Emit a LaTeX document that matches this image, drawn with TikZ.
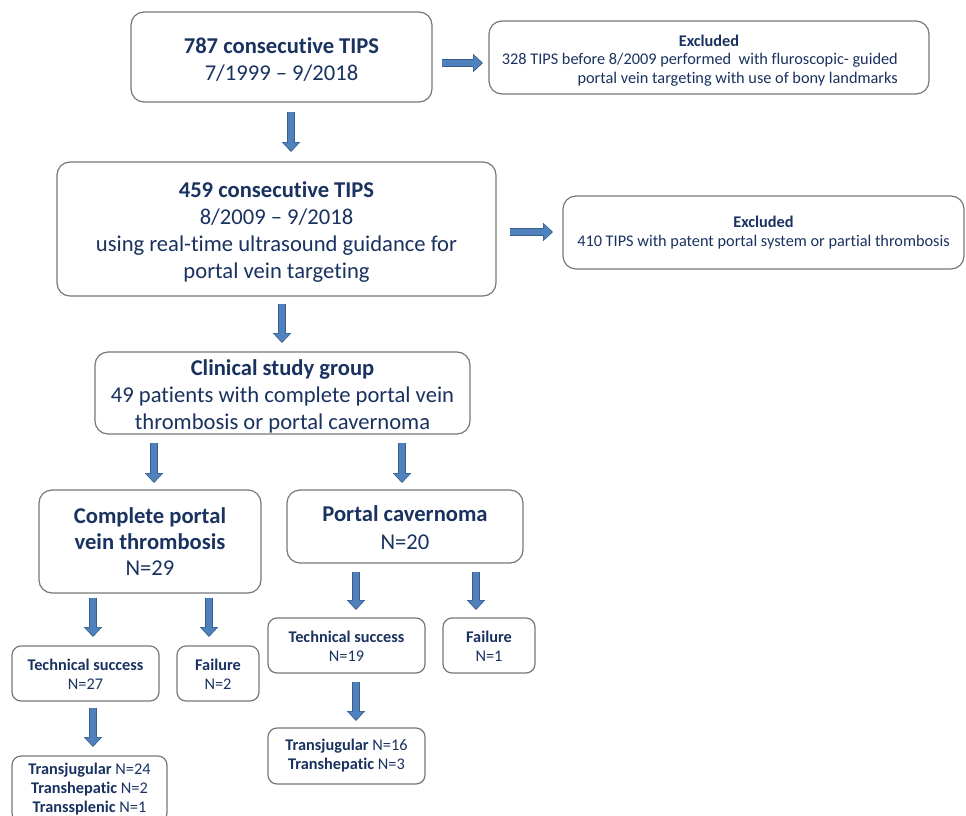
\documentclass[tikz,border=0pt]{standalone}
\usepackage{fontspec}
\setmainfont{Carlito}[Ligatures={TeX,NoCommon}]
\usetikzlibrary{arrows.meta}
\definecolor{txt}{RGB}{25,50,95}
\definecolor{bord}{RGB}{120,120,120}
\definecolor{afill}{RGB}{79,129,189}
\definecolor{aline}{RGB}{56,93,138}
\newcommand\toppad[1]{\rule{0pt}{#1}}
\begin{document}
\begin{tikzpicture}[x=1pt,y=-1pt,
  box/.style={draw=bord, line width=1.2pt, rounded corners=13pt, align=center, text=txt, inner sep=0pt},
  sbox/.style={box, rounded corners=9pt},
  big/.style={font=\fontsize{22.6}{27}\selectfont},
  small/.style={font=\fontsize{16.3}{19}\selectfont},
  lbl/.style={text=txt, inner sep=0pt},
  barr/.style={line width=6.2pt, draw=afill, shorten >=1.3pt,
    -{Triangle[width=15pt,length=8pt]},
    preaction={draw=aline, line width=8pt, shorten >=0pt, -{Triangle[width=18pt,length=10pt]}}},
]
\fill[white] (0,0) rectangle (966,816);
\clip (0,0) rectangle (966,816);

% boxes
\node[box, big, minimum width=301pt, minimum height=90pt] (A) at (281.5,57)
  {\toppad{21.5pt}\textbf{787 consecutive TIPS}\\7/1999 – 9/2018};
\node[box, minimum width=440pt, minimum height=73pt] (X1) at (709,57.5) {};
\node[lbl, small] (X1t) at (709,41) {\textbf{Excluded}};
\node[lbl, small, align=right, anchor=east] (X1b) at (898,69.5)
  {328 TIPS before 8/2009 performed\ \ with fluroscopic- guided\\portal vein targeting with use of bony landmarks};

\node[box, big, minimum width=439pt, minimum height=134pt] (B) at (276.5,229)
  {\toppad{22pt}\textbf{459 consecutive TIPS}\\8/2009 – 9/2018\\using real-time ultrasound guidance for\\portal vein targeting};
\node[box, small, minimum width=401pt, minimum height=73pt] (X2) at (763.5,232.5)
  {\textbf{Excluded}\\410 TIPS with patent portal system or partial thrombosis};

\node[box, big, minimum width=375pt, minimum height=82pt] (C) at (282.5,393)
  {\toppad{22pt}\textbf{Clinical study group}\\49 patients with complete portal vein\\thrombosis or portal cavernoma};

\node[box, font=\fontsize{22.6}{26}\selectfont, minimum width=222pt, minimum height=103pt] (D) at (150,541.5)
  {\textbf{Complete portal}\\\textbf{vein thrombosis}\\N=29};
\node[box, font=\fontsize{22.6}{28}\selectfont, minimum width=236pt, minimum height=73pt] (E) at (405,526.5)
  {\toppad{18pt}\textbf{Portal cavernoma}\\N=20};

\node[sbox, small, minimum width=147pt, minimum height=55pt] (F) at (85.5,673.5)
  {\toppad{13.5pt}\textbf{Technical success}\\N=27};
\node[sbox, small, minimum width=82pt, minimum height=55pt] (G) at (218,673.5)
  {\toppad{13.5pt}\textbf{Failure}\\N=2};
\node[sbox, small, minimum width=157pt, minimum height=55pt] (H) at (346.5,645.5)
  {\toppad{13.5pt}\textbf{Technical success}\\N=19};
\node[sbox, small, minimum width=92pt, minimum height=55pt] (I) at (489,645.5)
  {\toppad{13.5pt}\textbf{Failure}\\N=1};
\node[sbox, small, minimum width=155pt, minimum height=66pt] (J) at (89.5,789)
  {\textbf{Transjugular} N=24\\\textbf{Transhepatic} N=2\\\textbf{Transsplenic} N=1};
\node[sbox, small, minimum width=157pt, minimum height=56pt] (K) at (346.5,756)
  {\textbf{Transjugular} N=16\\\textbf{Transhepatic} N=3};

% arrow end points
\coordinate (ab1) at (291,112);  \coordinate (ab2) at (291,152);
\coordinate (ax1) at (442,63);   \coordinate (ax2) at (483,63);
\coordinate (bx1) at (510,232);  \coordinate (bx2) at (553,232);
\coordinate (bc1) at (282,304);  \coordinate (bc2) at (282,343);
\coordinate (cd1) at (154,443);  \coordinate (cd2) at (154,483);
\coordinate (ce1) at (402,443);  \coordinate (ce2) at (402,483);
\coordinate (df1) at (93,598);   \coordinate (df2) at (93,637);
\coordinate (dg1) at (209,598);  \coordinate (dg2) at (209,637);
\coordinate (eh1) at (356,572);  \coordinate (eh2) at (356,610);
\coordinate (ei1) at (476,572);  \coordinate (ei2) at (476,610);
\coordinate (fj1) at (93,708);   \coordinate (fj2) at (93,747);
\coordinate (hk1) at (356,682);  \coordinate (hk2) at (356,721);

\draw[barr] (ab1) -- (ab2);
\draw[barr] (ax1) -- (ax2);
\draw[barr] (bx1) -- (bx2);
\draw[barr] (bc1) -- (bc2);
\draw[barr] (cd1) -- (cd2);
\draw[barr] (ce1) -- (ce2);
\draw[barr] (df1) -- (df2);
\draw[barr] (dg1) -- (dg2);
\draw[barr] (eh1) -- (eh2);
\draw[barr] (ei1) -- (ei2);
\draw[barr] (fj1) -- (fj2);
\draw[barr] (hk1) -- (hk2);
\end{tikzpicture}
\end{document}
